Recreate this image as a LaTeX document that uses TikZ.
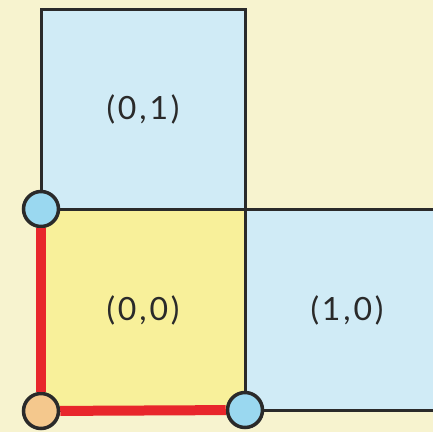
\documentclass[tikz,border=0pt]{standalone}
\usepackage{fontspec}
\setmainfont{Lato}[LetterSpace=9]
\usepackage{xcolor}
\usetikzlibrary{arrows.meta,positioning}
\definecolor{paper}{HTML}{F7F3CF}
\definecolor{cellblue}{HTML}{D0EBF6}
\definecolor{cellyellow}{HTML}{F8F09A}
\definecolor{dotblue}{HTML}{9AD8F0}
\definecolor{dotorange}{HTML}{F4C88D}
\definecolor{pathred}{HTML}{E8262B}
\definecolor{ink}{HTML}{2A2A2A}

\begin{document}
\begin{tikzpicture}[x=1pt,y=1pt,font=\fontsize{32}{38}\selectfont,
  cell/.style={draw=ink,line width=3pt,minimum width=204pt,inner sep=0pt,text=ink},
  dot/.style={circle,draw=ink,line width=3.5pt,minimum size=35pt,inner sep=0pt},
  walk/.style={draw=pathred,line width=10pt}]
  \useasboundingbox (0,0) rectangle (433,432);
  \fill[paper] (0,0) rectangle (433,432);
  \clip (0,0) rectangle (433,432);
  % cells
  \node[cell,fill=cellblue,minimum height=199pt] (c01) at (143,322.5) {(0,1)};
  \node[cell,fill=cellyellow,minimum height=201pt] (c00) at (143,122) {(0,0)};
  \node[cell,fill=cellblue,minimum height=201pt] (c10) at (347,122) {(1,0)};
  % corners
  \node[dot,fill=dotblue] (p01) at (41,223) {};
  \node[dot,fill=dotorange] (p00) at (41,21) {};
  \node[dot,fill=dotblue] (p10) at (245,22) {};
  \draw[walk] (p01) -- (p00);
  \draw[walk] (p00) -- (p10);
\end{tikzpicture}
\end{document}
